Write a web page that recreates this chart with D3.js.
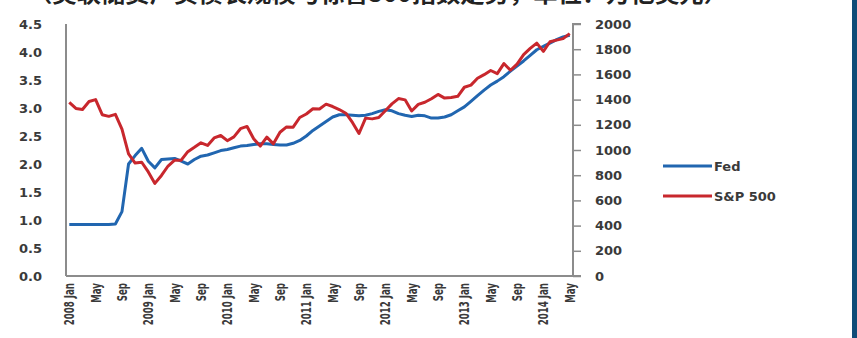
<!DOCTYPE html>
<html><head><meta charset="utf-8">
<script src="https://cdn.jsdelivr.net/npm/d3@7"></script>
<style>
html,body{margin:0;padding:0;background:#fff;overflow:hidden;}
svg{display:block;}
</style></head>
<body>
<svg id="c" width="857" height="338"></svg>
<script>
const titleText = "（美联储资产负债表规模与标普500指数走势，单位：万亿美元）";
const years = [2008, 2009, 2010, 2011, 2012, 2013, 2014];
const monthNames = ["Jan","Feb","Mar","Apr","May","Jun","Jul","Aug","Sep","Oct","Nov","Dec"];
const categories = [];
years.forEach(y => monthNames.forEach((m, i) => { if (y < 2014 || i < 5) categories.push(y + m); }));
const xTickLabels = ["2008 Jan","May","Sep","2009 Jan","May","Sep","2010 Jan","May","Sep","2011 Jan","May","Sep","2012 Jan","May","Sep","2013 Jan","May","Sep","2014 Jan","May"];
const xTickCats = ["2008Jan","2008May","2008Sep","2009Jan","2009May","2009Sep","2010Jan","2010May","2010Sep","2011Jan","2011May","2011Sep","2012Jan","2012May","2012Sep","2013Jan","2013May","2013Sep","2014Jan","2014May"];
const leftTicks = [0,0.5,1,1.5,2,2.5,3,3.5,4,4.5];
const rightTicks = [0,200,400,600,800,1000,1200,1400,1600,1800,2000];
const seriesNames = ["Fed","S&P 500"];
const fed = [0.92,0.92,0.92,0.92,0.92,0.92,0.92,0.93,1.15,2.0,2.15,2.28,
  2.05,1.93,2.08,2.09,2.1,2.05,2.0,2.08,2.14,2.16,2.2,2.24,
  2.26,2.29,2.32,2.33,2.35,2.36,2.36,2.35,2.34,2.34,2.37,2.42,
  2.5,2.6,2.68,2.76,2.84,2.88,2.88,2.87,2.86,2.87,2.9,2.94,
  2.97,2.95,2.9,2.87,2.85,2.87,2.86,2.82,2.82,2.84,2.88,2.95,
  3.02,3.12,3.22,3.32,3.41,3.48,3.56,3.66,3.75,3.84,3.94,4.04,
  4.1,4.16,4.22,4.27,4.3];
const sp500 = [1378,1330,1322,1385,1400,1280,1267,1283,1166,969,896,903,
  826,735,798,873,919,919,987,1021,1057,1036,1096,1115,
  1074,1104,1169,1187,1089,1031,1102,1049,1141,1183,1181,1258,
  1286,1327,1326,1364,1345,1321,1292,1219,1131,1253,1247,1258,
  1312,1366,1408,1398,1310,1362,1379,1407,1441,1412,1416,1426,
  1498,1515,1569,1598,1631,1606,1686,1633,1682,1757,1806,1848,
  1783,1859,1872,1884,1924];

const svg = d3.select("#c");
const L = 66, R = 573, T = 24, B = 276;
const x = d3.scaleBand().domain(categories).range([L, R]);
const cx = c => x(c) + x.bandwidth() / 2;
const yL = d3.scaleLinear().domain([0, 4.5]).range([B, T]);
const yR = d3.scaleLinear().domain([0, 2000]).range([B, T]);
const font = "'DejaVu Sans', sans-serif";
const txt = "#3a3a3a";

// right dark bar
svg.append("rect").attr("x", 852).attr("y", 0).attr("width", 5).attr("height", 338).attr("fill", "#0f4c78");

// title (cut off at top, as in the reference)
svg.append("text").attr("x", 28).attr("y", 2).attr("font-family", "'Noto Sans CJK SC', sans-serif")
  .attr("font-size", 23).attr("font-weight", "bold").attr("fill", "#222")
  .attr("textLength", 700).attr("lengthAdjust", "spacingAndGlyphs").text(titleText);

// axes lines
const axisCol = "#8c8c8c";
svg.append("line").attr("x1", L).attr("x2", L).attr("y1", T).attr("y2", B).attr("stroke", axisCol).attr("stroke-width", 2);
svg.append("line").attr("x1", L).attr("x2", R).attr("y1", B).attr("y2", B).attr("stroke", axisCol).attr("stroke-width", 2);

// right axis via d3
const rAxis = d3.axisRight(yR).tickValues(rightTicks).tickSize(8).tickPadding(14).tickFormat(d3.format("d"));
const rg = svg.append("g").attr("transform", `translate(${R},0)`).call(rAxis);
rg.select(".domain").attr("stroke", axisCol).attr("stroke-width", 2).attr("d", `M8,${T}H0V${B}H8`);
rg.selectAll(".tick line").attr("stroke", axisCol).attr("stroke-width", 1.5);
rg.selectAll("text").attr("font-family", font).attr("font-size", 13).attr("font-weight", "bold").attr("fill", txt);

// left axis labels
const lAxis = d3.axisLeft(yL).tickValues(leftTicks).tickSize(0).tickPadding(24).tickFormat(d3.format(".1f"));
const lg = svg.append("g").attr("transform", `translate(${L},0)`).call(lAxis);
lg.select(".domain").remove();
lg.selectAll("text").attr("font-family", font).attr("font-size", 13).attr("font-weight", "bold").attr("fill", txt);

// x labels rotated
const xg = svg.append("g");
xTickCats.forEach((c, i) => {
  xg.append("text")
    .attr("transform", `translate(${cx(c) + 5},${B + 7}) rotate(-90) scale(0.62,1)`)
    .attr("text-anchor", "end").attr("font-family", font).attr("font-size", 14).attr("font-weight", "bold")
    .attr("fill", txt).text(xTickLabels[i]);
});

// lines
const lineL = d3.line().x((d, i) => cx(categories[i])).y(d => yL(d));
const lineR = d3.line().x((d, i) => cx(categories[i])).y(d => yR(d));
const blue = "#2166b0", red = "#c8272d";
svg.append("path").datum(fed).attr("d", lineL).attr("fill", "none").attr("stroke", blue).attr("stroke-width", 3).attr("stroke-linejoin", "round");
svg.append("path").datum(sp500).attr("d", lineR).attr("fill", "none").attr("stroke", red).attr("stroke-width", 3).attr("stroke-linejoin", "round");

// legend
const lgd = [{n: seriesNames[0], c: blue, y: 166}, {n: seriesNames[1], c: red, y: 196}];
lgd.forEach(d => {
  svg.append("line").attr("x1", 663).attr("x2", 712).attr("y1", d.y).attr("y2", d.y).attr("stroke", d.c).attr("stroke-width", 3);
  svg.append("text").attr("x", 714).attr("y", d.y + 5).attr("font-family", font).attr("font-size", 13)
    .attr("font-weight", "bold").attr("fill", txt).text(d.n);
});
</script>
</body></html>
